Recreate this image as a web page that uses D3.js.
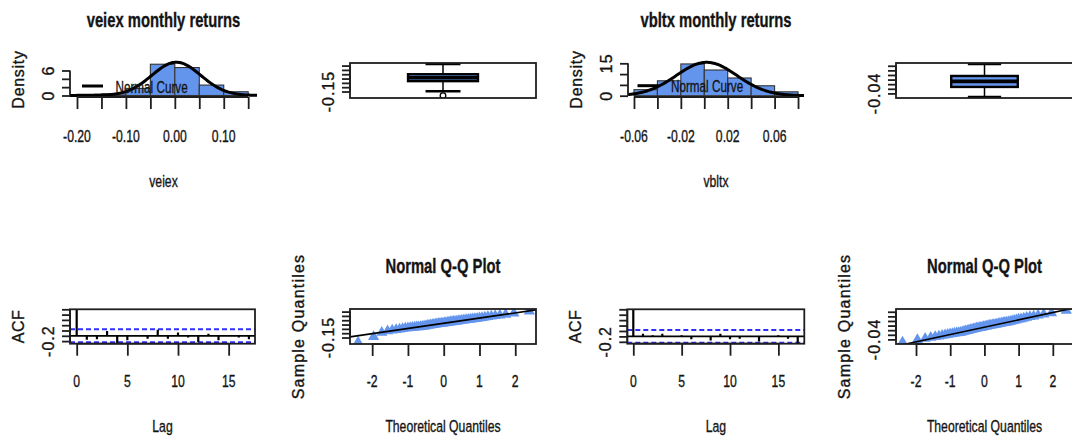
<!DOCTYPE html>
<html>
<head>
<meta charset="utf-8">
<script src="https://cdn.jsdelivr.net/npm/d3@7"></script>
<style>
  body { margin: 0; background: #fff; }
  svg { display: block; }
  text { font-family: "Liberation Sans", Arial, sans-serif; fill: #141414; stroke: #141414; stroke-width: 0.35px; }
</style>
</head>
<body>
<svg id="chart" width="1072" height="441"></svg>
<script>
// ---- Donnees ----
const veiexBreaks = [-0.20, -0.15, -0.10, -0.05, 0.00, 0.05, 0.10, 0.15];
const veiexDensity = [0.3, 0.4, 1.7, 7.5, 6.7, 2.5, 0.9];
const veiexNormal = [0.003, 0.050];            // moyenne, ecart-type
const vbltxBreaks = [-0.06, -0.04, -0.02, 0.00, 0.02, 0.04, 0.06, 0.08];
const vbltxDensity = [2.8, 6.9, 14.7, 11.9, 8.2, 4.6, 1.8];
const vbltxNormal = [0.002, 0.0258];

// boxplot : moustache basse, Q1, mediane, Q3, moustache haute
const veiexBox = [-0.147, -0.030, 0.010, 0.050, 0.168];
const veiexOutliers = [-0.198];
const vbltxBox = [-0.0557, -0.012, 0.012, 0.0357, 0.0877];
const vbltxOutliers = [];

// autocorrelations, lag 0 a 17
const veiexAcf = [1, -0.145, -0.13, 0.18, -0.30, -0.17, 0.01, -0.11, 0.23, -0.11,
                  0.12, -0.06, -0.23, 0.08, -0.17, -0.01, -0.06, -0.13];
const vbltxAcf = [1, 0.10, 0.04, 0.10, 0.01, 0.04, -0.11, -0.01, -0.15, 0.10,
                  -0.11, -0.09, 0.01, -0.19, -0.01, 0.04, -0.09, -0.24];
const veiexCi = 0.245;
const vbltxCi = 0.235;

// quantiles empiriques (tries) pour les Q-Q plots
const veiexSample = [
  -0.205, -0.140, -0.092, -0.074, -0.066, -0.060, -0.054, -0.049, -0.044, -0.040,
  -0.037, -0.035, -0.032, -0.029, -0.027, -0.025, -0.022, -0.019, -0.016, -0.012,
  -0.009, -0.006, -0.003, 0.000, 0.003, 0.006, 0.008, 0.011, 0.013, 0.015,
  0.019, 0.021, 0.024, 0.026, 0.029, 0.031, 0.034, 0.036, 0.039, 0.041,
  0.044, 0.047, 0.049, 0.052, 0.055, 0.057, 0.060, 0.064, 0.067, 0.071,
  0.075, 0.079, 0.084, 0.089, 0.095, 0.101, 0.108, 0.117, 0.131, 0.155];
const vbltxSample = [
  -0.052, -0.042, -0.036, -0.032, -0.029, -0.026, -0.023, -0.021, -0.019, -0.017,
  -0.015, -0.013, -0.012, -0.011, -0.010, -0.008, -0.006, -0.004, -0.002, 0.000,
  0.002, 0.003, 0.005, 0.006, 0.008, 0.009, 0.011, 0.012, 0.013, 0.015,
  0.016, 0.017, 0.019, 0.020, 0.021, 0.022, 0.024, 0.025, 0.026, 0.028,
  0.029, 0.030, 0.032, 0.033, 0.034, 0.036, 0.038, 0.040, 0.042, 0.044,
  0.047, 0.049, 0.052, 0.055, 0.058, 0.061, 0.065, 0.069, 0.075, 0.085];

// graduations et etiquettes (vide = etiquette masquee par R)
const veiexHistTicks = [-0.20, -0.15, -0.10, -0.05, 0.00, 0.05, 0.10, 0.15];
const veiexHistLabels = ["-0.20", "", "-0.10", "", "0.00", "", "0.10", ""];
const vbltxHistTicks = [-0.06, -0.04, -0.02, 0.00, 0.02, 0.04, 0.06, 0.08];
const vbltxHistLabels = ["-0.06", "", "-0.02", "", "0.02", "", "0.06", ""];
const veiexDensTicks = [0, 2, 4, 6];
const veiexDensLabels = ["0", "", "", "6"];
const vbltxDensTicks = [0, 5, 10, 15];
const vbltxDensLabels = ["0", "", "", "15"];
const veiexRetTicks = [-0.15, -0.10, -0.05, 0.00, 0.05, 0.10, 0.15];
const veiexRetLabels = ["-0.15", "", "", "", "", "", ""];
const vbltxRetTicks = [-0.04, -0.02, 0.00, 0.02, 0.04, 0.06, 0.08];
const vbltxRetLabels = ["-0.04", "", "", "", "", "", ""];
const lagTicks = [0, 5, 10, 15];
const lagLabels = ["0", "5", "10", "15"];
const acfTicks = [-0.2, 0, 0.2, 0.4, 0.6, 0.8, 1.0];
const acfLabels = ["-0.2", "", "", "", "", "", ""];
const qqTicks = [-2, -1, 0, 1, 2];
const qqLabels = ["-2", "-1", "0", "1", "2"];

// ---- Styles ----
const svg = d3.select("#chart");
const INK = "#1e1e1e";
const BAR = "cornflowerblue";
const CI_BLUE = "#2f2fff";
const LW = 1.8;

function hText(x, y, str, opts = {}) {
    return svg.append("text")
        .attr("transform", "translate(" + x + "," + y + ") scale(" + (opts.sx || 0.74) + ",1)")
        .attr("text-anchor", opts.anchor || "middle")
        .style("font-size", (opts.size || 16.5) + "px")
        .style("font-weight", opts.bold ? "bold" : "normal")
        .text(str);
}

// texte vertical facon R (lu de bas en haut)
function vText(x, y, str, spacing = 1) {
    return svg.append("text")
        .attr("transform", "translate(" + x + "," + y + ") rotate(-90)")
        .attr("text-anchor", "middle")
        .style("font-size", "16px")
        .style("letter-spacing", spacing + "px")
        .text(str);
}

function frame(p) {
    svg.append("rect")
        .attr("x", p.left).attr("y", p.top)
        .attr("width", p.right - p.left).attr("height", p.bottom - p.top)
        .attr("fill", "none").attr("stroke", INK).attr("stroke-width", LW);
}

function clipFor(id, p) {
    svg.append("clipPath").attr("id", id)
        .append("rect")
        .attr("x", p.left).attr("y", p.top)
        .attr("width", p.right - p.left).attr("height", p.bottom - p.top);
    return "url(#" + id + ")";
}

// Axe bas : ligne de la premiere a la derniere graduation, comme R.
function xAxis(x, y0, ticks, labels, labelY) {
    const g = svg.append("g")
        .attr("transform", "translate(0," + y0 + ")")
        .call(d3.axisBottom(x).tickValues(ticks).tickSize(12).tickFormat(""));
    g.select(".domain").remove();
    g.selectAll(".tick line").attr("stroke", INK).attr("stroke-width", LW);
    g.append("line")
        .attr("x1", x(ticks[0])).attr("x2", x(ticks[ticks.length - 1]))
        .attr("stroke", INK).attr("stroke-width", LW);
    ticks.forEach(function(t, i) {
        if (labels[i]) hText(x(t), labelY, labels[i]);
    });
}

function yAxis(y, x0, ticks, labels) {
    const g = svg.append("g")
        .attr("transform", "translate(" + x0 + ",0)")
        .call(d3.axisLeft(y).tickValues(ticks).tickSize(8).tickFormat(""));
    g.select(".domain").remove();
    g.selectAll(".tick line").attr("stroke", INK).attr("stroke-width", LW);
    g.append("line")
        .attr("y1", y(ticks[0])).attr("y2", y(ticks[ticks.length - 1]))
        .attr("stroke", INK).attr("stroke-width", LW);
    ticks.forEach(function(t, i) {
        if (labels[i]) vText(x0 - 16.5, y(t), labels[i], 1);
    });
}

function dnorm(v, m, s) {
    return Math.exp(-0.5 * ((v - m) / s) ** 2) / (s * Math.sqrt(2 * Math.PI));
}

// quantile de la loi normale (algorithme d'Acklam)
function qnorm(p) {
    const a = [-39.69683028665376, 220.9460984245205, -275.9285104469687, 138.3577518672690, -30.66479806614716, 2.506628277459239];
    const b = [-54.47609879822406, 161.5858368580409, -155.6989798598866, 66.80131188771972, -13.28068155288572];
    const c = [-0.007784894002430293, -0.3223964580411365, -2.400758277161838, -2.549732539343734, 4.374664141464968, 2.938163982698783];
    const d = [0.007784695709041462, 0.3224671290700398, 2.445134137142996, 3.754408661907416];
    const low = 0.02425;
    let q, r;
    if (p < low) {
        q = Math.sqrt(-2 * Math.log(p));
        return (((((c[0] * q + c[1]) * q + c[2]) * q + c[3]) * q + c[4]) * q + c[5]) /
               ((((d[0] * q + d[1]) * q + d[2]) * q + d[3]) * q + 1);
    }
    if (p > 1 - low) {
        return -qnorm(1 - p);
    }
    q = p - 0.5;
    r = q * q;
    return (((((a[0] * r + a[1]) * r + a[2]) * r + a[3]) * r + a[4]) * r + a[5]) * q /
           (((((b[0] * r + b[1]) * r + b[2]) * r + b[3]) * r + b[4]) * r + 1);
}

// ---- Histogramme + courbe normale ----
function histPanel(o) {
    const x = d3.scaleLinear(o.xDomain, [o.left, o.right]);
    const y = d3.scaleLinear(o.yDomain, [o.zeroY, o.topY]);
    const bins = o.density.map(function(dv, i) {
        return { x0: o.breaks[i], x1: o.breaks[i + 1], d: dv };
    });

    svg.append("g").selectAll("rect")
        .data(bins).join("rect")
        .attr("x", function(b) { return x(b.x0); })
        .attr("width", function(b) { return x(b.x1) - x(b.x0); })
        .attr("y", function(b) { return y(b.d); })
        .attr("height", function(b) { return y(0) - y(b.d); })
        .attr("fill", BAR).attr("stroke", "#333").attr("stroke-width", 1.1);

    const xs = d3.ticks(o.xDomain[0], o.xDomain[1], 150).concat([o.xDomain[1]]);
    xs.unshift(o.xDomain[0]);
    svg.append("path")
        .datum(xs)
        .attr("fill", "none").attr("stroke", "#000").attr("stroke-width", 3)
        .attr("d", d3.line()
            .x(function(v) { return x(v); })
            .y(function(v) { return y(dnorm(v, o.normal[0], o.normal[1])); }));

    xAxis(x, o.axisY, o.xTicks, o.xLabels, 141.5);
    yAxis(y, o.left, o.yTicks, o.yLabels);

    // legende sans cadre
    svg.append("line")
        .attr("x1", o.legendX).attr("x2", o.legendX + 21)
        .attr("y1", o.legendY).attr("y2", o.legendY)
        .attr("stroke", "#000").attr("stroke-width", 3);
    hText(o.legendX + 33.5, o.legendY + 6.5, "Normal Curve", { anchor: "start", sx: 0.71 });

    const cx = (o.left + o.right) / 2;
    hText(cx, 27, o.title, { size: 20, bold: true });
    hText(cx, 186.5, o.xTitle);
    vText(o.left - 46, 79.5, "Density", 0.7);
}

// ---- Boxplot ----
function boxPanel(o) {
    const p = { left: o.left, right: o.right, top: 63, bottom: 98 };
    const y = d3.scaleLinear(o.yDomain, [p.bottom, p.top]);
    const x = d3.scaleLinear([0.5, 1.5], [p.left, p.right]);
    const s = o.stats;
    const half = 0.188;
    const g = svg.append("g").attr("clip-path", clipFor(o.id, p));

    [[s[0], s[1]], [s[3], s[4]]].forEach(function(w) {
        g.append("line")
            .attr("x1", x(1)).attr("x2", x(1))
            .attr("y1", y(w[0])).attr("y2", y(w[1]))
            .attr("stroke", "#000").attr("stroke-width", 1.5);
    });
    [s[0], s[4]].forEach(function(v) {
        g.append("line")
            .attr("x1", x(1 - half / 2)).attr("x2", x(1 + half / 2))
            .attr("y1", y(v)).attr("y2", y(v))
            .attr("stroke", "#000").attr("stroke-width", 2.4);
    });
    g.append("rect")
        .attr("x", x(1 - half)).attr("width", x(1 + half) - x(1 - half))
        .attr("y", y(s[3])).attr("height", y(s[1]) - y(s[3]))
        .attr("fill", BAR).attr("stroke", "#000").attr("stroke-width", 2.4);
    g.append("line")
        .attr("x1", x(1 - half)).attr("x2", x(1 + half))
        .attr("y1", y(s[2])).attr("y2", y(s[2]))
        .attr("stroke", "#000").attr("stroke-width", 3.6);
    g.selectAll("circle.out")
        .data(o.outliers).join("circle")
        .attr("class", "out")
        .attr("cx", x(1)).attr("cy", function(v) { return y(v); })
        .attr("r", 2.8)
        .attr("fill", "none").attr("stroke", "#000").attr("stroke-width", 1.3);

    frame(p);
    yAxis(y, p.left, o.yTicks, o.yLabels);
}

// ---- ACF ----
function acfPanel(o) {
    const p = { left: o.left, right: o.right, top: 309.3, bottom: 343.7 };
    const x = d3.scaleLinear(o.xDomain, [p.left, p.right]);
    const y = d3.scaleLinear(o.yDomain, [p.bottom, p.top]);
    const g = svg.append("g").attr("clip-path", clipFor(o.id, p));

    g.append("line")
        .attr("x1", p.left).attr("x2", p.right)
        .attr("y1", y(0)).attr("y2", y(0))
        .attr("stroke", "#000").attr("stroke-width", LW);
    [o.ci, -o.ci].forEach(function(c) {
        g.append("line")
            .attr("x1", p.left).attr("x2", p.right)
            .attr("y1", y(c)).attr("y2", y(c))
            .attr("stroke", CI_BLUE).attr("stroke-width", 2)
            .attr("stroke-dasharray", "5,3");
    });
    g.selectAll("line.lag")
        .data(o.acf).join("line")
        .attr("class", "lag")
        .attr("x1", function(v, i) { return x(i); })
        .attr("x2", function(v, i) { return x(i); })
        .attr("y1", y(0))
        .attr("y2", function(v) { return y(v); })
        .attr("stroke", "#000").attr("stroke-width", 2.2);

    frame(p);
    xAxis(x, p.bottom, lagTicks, lagLabels, 386.7);
    yAxis(y, p.left, acfTicks, acfLabels);
    hText((p.left + p.right) / 2, 431.5, "Lag");
    vText(p.left - 46, 326.5, "ACF", 0.5);
}

// ---- Q-Q plot ----
function qqPanel(o) {
    const p = { left: o.left, right: o.right, top: 309, bottom: 344 };
    const x = d3.scaleLinear(o.xDomain, [p.left, p.right]);
    const y = d3.scaleLinear(o.yDomain, [p.bottom, p.top]);
    const n = o.sample.length;
    const pts = o.sample.map(function(v, i) {
        return { t: qnorm((i + 0.5) / n), v: v };
    });
    const g = svg.append("g").attr("clip-path", clipFor(o.id, p));

    g.selectAll("path.pt")
        .data(pts).join("path")
        .attr("class", "pt")
        .attr("transform", function(d) { return "translate(" + x(d.t) + "," + y(d.v) + ")"; })
        .attr("d", d3.symbol(d3.symbolTriangle, 55))
        .attr("fill", BAR);

    // qqline : droite passant par les quartiles
    const q1 = d3.quantile(o.sample, 0.25), q3 = d3.quantile(o.sample, 0.75);
    const t1 = qnorm(0.25), t3 = qnorm(0.75);
    const slope = (q3 - q1) / (t3 - t1);
    const intercept = q1 - slope * t1;
    g.append("line")
        .attr("x1", x(o.xDomain[0])).attr("x2", x(o.xDomain[1]))
        .attr("y1", y(intercept + slope * o.xDomain[0]))
        .attr("y2", y(intercept + slope * o.xDomain[1]))
        .attr("stroke", "#000").attr("stroke-width", 1.6);

    frame(p);
    xAxis(x, p.bottom, qqTicks, qqLabels, 386.7);
    yAxis(y, p.left, o.yTicks, o.yLabels);
    const cx = (p.left + p.right) / 2;
    hText(cx, 272.5, "Normal Q-Q Plot", { size: 20, bold: true });
    hText(cx, 431.5, "Theoretical Quantiles");
    vText(p.left - 46, 326.5, "Sample Quantiles", 1.2);
}

// ---- Ligne du haut ----
histPanel({
    left: 70, right: 257, xDomain: [-0.2143, 0.168],
    zeroY: 95.5, topY: 62.14, yDomain: [0, 8], axisY: 97,
    breaks: veiexBreaks, density: veiexDensity, normal: veiexNormal,
    xTicks: veiexHistTicks, xLabels: veiexHistLabels,
    yTicks: veiexDensTicks, yLabels: veiexDensLabels,
    legendX: 82, legendY: 86,
    title: "veiex monthly returns", xTitle: "veiex"
});
boxPanel({
    id: "clipBox1", left: 350, right: 536, yDomain: [-0.225, 0.18],
    stats: veiexBox, outliers: veiexOutliers,
    yTicks: veiexRetTicks, yLabels: veiexRetLabels
});
histPanel({
    left: 628, right: 804, xDomain: [-0.0651, 0.0851],
    zeroY: 95.7, topY: 63.3, yDomain: [0, 15], axisY: 97,
    breaks: vbltxBreaks, density: vbltxDensity, normal: vbltxNormal,
    xTicks: vbltxHistTicks, xLabels: vbltxHistLabels,
    yTicks: vbltxDensTicks, yLabels: vbltxDensLabels,
    legendX: 637.5, legendY: 85.7,
    title: "vbltx monthly returns", xTitle: "vbltx"
});
boxPanel({
    id: "clipBox2", left: 896, right: 1073, yDomain: [-0.060, 0.092],
    stats: vbltxBox, outliers: vbltxOutliers,
    yTicks: vbltxRetTicks, yLabels: vbltxRetLabels
});

// ---- Ligne du bas ----
acfPanel({
    id: "clipAcf1", left: 70, right: 255, xDomain: [-0.66, 17.6],
    yDomain: [-0.298, 1.0], acf: veiexAcf, ci: veiexCi
});
qqPanel({
    id: "clipQq1", left: 350, right: 536, xDomain: [-2.62, 2.58],
    yDomain: [-0.225, 0.18], sample: veiexSample,
    yTicks: veiexRetTicks, yLabels: veiexRetLabels
});
acfPanel({
    id: "clipAcf2", left: 627.3, right: 804.3, xDomain: [-0.62, 17.68],
    yDomain: [-0.27, 1.0], acf: vbltxAcf, ci: vbltxCi
});
qqPanel({
    id: "clipQq2", left: 896, right: 1073, xDomain: [-2.585, 2.59],
    yDomain: [-0.060, 0.092], sample: vbltxSample,
    yTicks: vbltxRetTicks, yLabels: vbltxRetLabels
});
</script>
</body>
</html>
